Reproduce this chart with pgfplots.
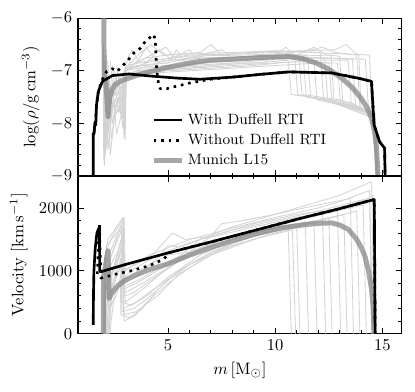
\documentclass[border=0pt]{standalone}
\usepackage{pgfplots}
\pgfplotsset{compat=1.18}
\usetikzlibrary{calc}
\definecolor{enscol}{RGB}{211,211,211}
\definecolor{munichcol}{RGB}{128,128,128}

\begin{document}
\begin{tikzpicture}
\pgfplotsset{
  panel/.style={width=195pt,height=95pt,scale only axis,
    xmin=0.8,xmax=15.9,xtick={5,10,15},minor x tick num=4,
    tick align=inside,major tick length=3.5pt,minor tick length=2pt,
    axis line style={line width=0.8pt},every tick/.style={black,line width=0.6pt},
    every axis plot/.append style={line join=round}},
  ens/.style={enscol,line width=0.5pt,forget plot},
  withrti/.style={black,line width=1.6pt},
  withoutrti/.style={black,line width=1.6pt,dash pattern=on 1.6pt off 2.9pt},
  munich/.style={munichcol,draw opacity=0.7,line width=3pt},
}
% ---- density panel
\begin{axis}[panel,name=top,ymin=-9,ymax=-6,ytick={-9,-8,-7,-6},minor y tick num=4,
  xticklabels={},ylabel={$\log(\rho/\mathrm{g\,cm^{-3}})$},
  legend style={at={(0.21,0.44)},anchor=north west,draw=none,fill=none,font=\small,row sep=0.5pt},
  legend cell align=left]
\addlegendimage{withrti}\addlegendentry{With Duffell RTI}
\addlegendimage{withoutrti}\addlegendentry{Without Duffell RTI}
\addlegendimage{munich}\addlegendentry{Munich L15}
% ensemble
\addplot[ens] coordinates {(1.96,-6.6) (2.0,-8.7) (2.1,-7.6) (2.3,-7.3) (2.6,-7.15) (3.5,-7.0) (5,-6.95) (7,-6.9) (9,-6.85) (10.6,-6.8) (10.75,-7.45) (12.5,-7.55) (14.55,-7.8) (14.7,-9.1)};
\addplot[ens] coordinates {(1.97,-6.8) (2.03,-8.8) (2.15,-7.9) (2.4,-7.5) (2.85,-7.3) (2.95,-8.3) (3.0,-7.1) (4,-6.9) (5,-6.8) (6,-6.6) (6.3,-6.75) (8,-6.75) (10,-6.7) (10.9,-6.7) (11.05,-7.45) (13,-7.6) (14.6,-7.85) (14.75,-9.1)};
\addplot[ens] coordinates {(1.98,-6.5) (2.05,-8.4) (2.2,-7.6) (2.5,-7.2) (2.9,-7.4) (2.98,-8.2) (3.05,-7.0) (3.6,-6.8) (4.0,-6.55) (4.4,-6.8) (6,-6.7) (8,-6.68) (10,-6.65) (11.3,-6.7) (11.45,-7.5) (13.5,-7.65) (14.65,-7.85) (14.8,-9.1)};
\addplot[ens] coordinates {(2.0,-6.9) (2.07,-8.6) (2.25,-8.0) (2.5,-7.6) (2.88,-7.5) (2.95,-7.0) (3.5,-6.9) (5,-6.85) (5.4,-6.6) (5.8,-6.85) (8,-6.8) (10,-6.75) (11.8,-6.8) (11.95,-7.55) (14.6,-7.8) (14.72,-9.1)};
\addplot[ens] coordinates {(2.02,-6.7) (2.1,-8.5) (2.3,-7.8) (2.7,-7.4) (2.9,-7.6) (3.0,-8.3) (3.05,-6.95) (4,-6.75) (5,-6.7) (6.5,-6.65) (7,-6.5) (7.5,-6.7) (10,-6.62) (12.1,-6.65) (12.25,-7.55) (14.65,-7.8) (14.82,-9.1)};
\addplot[ens] coordinates {(2.05,-7.0) (2.12,-8.3) (2.3,-7.4) (2.6,-7.1) (3.5,-7.05) (5,-7.0) (7,-6.95) (9,-6.9) (10.2,-6.85) (11,-6.82) (12.5,-6.85) (12.65,-7.6) (14.6,-7.9) (14.75,-9.1)};
\addplot[ens] coordinates {(2.08,-6.8) (2.15,-8.1) (2.35,-7.5) (2.85,-7.2) (2.93,-8.0) (3.0,-6.9) (3.3,-6.6) (3.7,-6.85) (5,-6.8) (7,-6.75) (9,-6.72) (11,-6.7) (11.8,-6.55) (12.4,-6.7) (13,-6.72) (13.15,-7.6) (14.65,-7.85) (14.78,-9.1)};
\addplot[ens] coordinates {(2.1,-6.9) (2.2,-8.5) (2.4,-7.7) (2.8,-7.3) (3.1,-7.1) (4,-7.0) (6,-6.95) (8,-6.9) (10,-6.85) (12,-6.8) (13.4,-6.8) (13.55,-7.65) (14.6,-7.8) (14.7,-9.1)};
\addplot[ens] coordinates {(2.12,-6.7) (2.25,-8.0) (2.5,-7.4) (2.9,-7.8) (2.97,-7.0) (4,-6.85) (4.6,-6.6) (5.2,-6.8) (7,-6.7) (9,-6.65) (11,-6.62) (12.8,-6.6) (13.3,-6.5) (13.7,-6.65) (13.9,-6.7) (14.0,-7.7) (14.62,-7.85) (14.76,-9.1)};
\addplot[ens] coordinates {(2.15,-7.0) (2.3,-8.6) (2.5,-7.9) (2.9,-7.5) (3.0,-7.05) (4,-7.0) (6,-6.95) (8,-6.85) (10,-6.78) (12,-6.75) (14.2,-6.78) (14.35,-7.75) (14.6,-7.9) (14.7,-9.1)};
\addplot[ens] coordinates {(2.18,-6.8) (2.35,-8.3) (2.6,-7.6) (2.88,-7.9) (2.95,-7.0) (3.8,-6.9) (5,-6.85) (6,-6.75) (7.5,-6.6) (8.0,-6.75) (10,-6.72) (11.5,-6.7) (11.65,-7.5) (13.5,-7.6) (14.62,-7.82) (14.8,-9.1)};
\addplot[ens] coordinates {(2.2,-6.9) (2.4,-8.0) (2.7,-7.5) (2.9,-8.1) (2.98,-7.1) (4,-7.0) (6,-6.9) (8,-6.85) (9.5,-6.85) (10.5,-6.55) (11,-6.75) (12.3,-6.75) (12.45,-7.55) (14.6,-7.8) (14.72,-9.1)};
\addplot[ens] coordinates {(2.25,-7.1) (2.45,-7.9) (2.8,-7.6) (3.0,-8.1) (3.05,-7.1) (4,-6.95) (5.5,-6.9) (7,-6.82) (9,-6.78) (11,-6.75) (13.6,-6.78) (13.75,-7.7) (14.6,-7.85) (14.74,-9.1)};
\addplot[ens] coordinates {(2.3,-6.8) (2.5,-7.7) (2.85,-7.4) (2.97,-7.0) (3.5,-6.85) (4.9,-6.55) (5.4,-6.8) (7,-6.78) (9,-6.72) (10.8,-6.7) (11.1,-6.72) (11.25,-7.45) (13,-7.55) (14.6,-7.8) (14.75,-9.1)};
\addplot[ens] coordinates {(2.35,-7.0) (2.6,-8.2) (2.9,-7.7) (3.0,-7.15) (4,-7.05) (6,-7.0) (8,-6.95) (10,-6.9) (12,-6.85) (12.9,-6.85) (13.05,-7.65) (14.65,-7.9) (14.8,-9.1)};
\addplot[ens] coordinates {(2.4,-6.9) (2.7,-7.8) (2.95,-7.3) (3.05,-6.9) (4.2,-6.8) (6,-6.72) (8.5,-6.7) (10,-6.68) (11.5,-6.62) (12.2,-6.55) (12.8,-6.65) (13.8,-6.7) (13.95,-7.7) (14.6,-7.85) (14.76,-9.1)};
\addplot[ens] coordinates {(2.5,-7.0) (2.8,-7.6) (3.0,-7.0) (4,-6.92) (6,-6.88) (7,-6.82) (9,-6.78) (11,-6.72) (12.6,-6.7) (12.75,-7.6) (14.6,-7.85) (14.72,-9.1)};
\addplot[ens] coordinates {(2.6,-6.9) (2.9,-7.7) (3.0,-6.95) (3.6,-6.7) (4.2,-6.5) (4.8,-6.7) (6,-6.68) (8,-6.65) (10,-6.62) (14.4,-6.7) (14.5,-7.8) (14.65,-7.95) (14.8,-9.1)};
% Munich L15
\addplot[munich,forget plot] coordinates {(2.0,-5.8) (2.02,-7.1) (2.1,-7.2) (2.2,-7.87) (2.28,-7.5) (2.4,-7.35) (2.55,-7.26) (2.8,-7.19) (3.17,-7.14) (3.5,-7.09) (3.94,-7.04) (4.7,-6.96) (5.5,-6.89) (6.2,-6.84) (7,-6.8) (8,-6.78) (8.8,-6.76) (9.7,-6.74) (10.65,-6.73) (11.3,-6.77) (11.9,-6.85) (12.5,-6.97) (13.1,-7.14) (13.6,-7.32) (14.0,-7.52) (14.3,-7.71) (14.5,-7.92) (14.63,-8.15) (14.72,-8.45) (14.77,-8.8) (14.8,-9.1)};
% without Duffell RTI
\addplot[withoutrti,forget plot] coordinates {(1.55,-8.15) (1.6,-8.0) (1.65,-7.75) (1.72,-7.45) (1.85,-7.25) (2.0,-7.1) (2.14,-7.01) (2.40,-6.96) (2.63,-7.01) (2.86,-6.91) (3.09,-6.82) (3.40,-6.66) (3.71,-6.57) (3.94,-6.44) (4.32,-6.31) (4.40,-6.4) (4.47,-6.98) (4.55,-7.23) (4.63,-7.34) (4.94,-7.34) (5.32,-7.30) (6.03,-7.23) (6.96,-7.16) (8.0,-7.12) (9.5,-7.06) (10.65,-7.02) (12.64,-7.04) (13.87,-7.14) (14.49,-7.2) (14.61,-8.03) (14.87,-8.35) (15.1,-8.47) (15.13,-9.1)};
% with Duffell RTI
\addplot[withrti,forget plot] coordinates {(1.51,-9.1) (1.51,-8.19) (1.55,-8.2) (1.58,-8.0) (1.63,-8.03) (1.66,-7.65) (1.75,-7.39) (1.94,-7.2) (2.4,-7.09) (3.17,-7.06) (4.2,-7.1) (5.48,-7.14) (6.5,-7.16) (8.0,-7.12) (9.5,-7.06) (10.65,-7.02) (12.64,-7.04) (13.87,-7.14) (14.49,-7.2) (14.61,-8.03) (14.87,-8.35) (15.1,-8.47) (15.13,-9.1)};
\end{axis}
% ---- velocity panel
\begin{axis}[panel,name=bot,at={(top.south west)},anchor=north west,
  ymin=0,ymax=2510,ytick={0,1000,2000},minor y tick num=4,
  scaled y ticks=false,/pgf/number format/1000 sep={},
  xlabel={$m\,[\mathrm{M_\odot}]$},ylabel={Velocity $[\mathrm{km\,s^{-1}}]$}]
\addplot[ens] coordinates {(2.0,0) (2.03,1200) (2.2,1500) (2.9,1850) (2.95,900) (3.5,1050) (4.5,1250) (6,1450) (8,1650) (10,1800) (12,1950) (14.3,2150) (14.55,2200) (14.65,0)};
\addplot[ens] coordinates {(2.0,0) (2.05,900) (2.5,1400) (2.85,1750) (2.9,700) (3.5,800) (4.5,1000) (6,1300) (8,1550) (10,1700) (10.6,1720) (10.75,0)};
\addplot[ens] coordinates {(2.02,0) (2.1,700) (2.6,1200) (2.8,1500) (2.85,500) (3.3,450) (4,600) (5,900) (6.5,1250) (8,1500) (10,1680) (11.0,1750) (11.15,0)};
\addplot[ens] coordinates {(2.03,0) (2.08,1100) (2.7,1650) (2.92,1800) (2.96,600) (3.4,650) (4.2,850) (5.5,1150) (7,1400) (9,1600) (11.4,1780) (11.55,0)};
\addplot[ens] coordinates {(2.05,0) (2.15,500) (2.5,900) (2.75,1300) (2.8,300) (3.2,250) (3.8,400) (4.5,700) (5.5,1000) (7,1300) (9,1550) (11.8,1800) (11.95,0)};
\addplot[ens] coordinates {(2.06,0) (2.1,1300) (2.4,1550) (2.95,1850) (3.0,1000) (3.6,1150) (4.4,1300) (5.2,1600) (5.8,1500) (7,1550) (9,1750) (11,1900) (12.2,1950) (12.35,0)};
\addplot[ens] coordinates {(2.08,0) (2.2,800) (2.6,1100) (2.88,1400) (2.93,400) (3.5,500) (4.5,750) (6,1100) (8,1400) (10,1600) (12.5,1850) (12.65,0)};
\addplot[ens] coordinates {(2.1,0) (2.2,1000) (2.7,1350) (2.9,1600) (2.95,750) (3.6,850) (4.6,1050) (5.6,1250) (6.5,1500) (7.2,1550) (9,1700) (11,1850) (12.9,1980) (13.05,0)};
\addplot[ens] coordinates {(2.12,0) (2.25,600) (2.6,950) (2.8,1200) (2.85,350) (3.4,400) (4,550) (5,850) (6,1100) (8,1450) (10,1650) (13.2,1900) (13.35,0)};
\addplot[ens] coordinates {(2.15,0) (2.3,1200) (2.9,1700) (2.95,850) (3.6,1000) (5,1250) (6,1300) (7,1550) (7.5,1750) (8.5,1800) (10,1900) (12,2050) (13.5,2150) (13.65,0)};
\addplot[ens] coordinates {(2.18,0) (2.3,400) (2.7,800) (2.88,1000) (2.92,300) (3.5,350) (4.5,600) (5.5,950) (7,1250) (9,1500) (11,1700) (13.8,1950) (13.95,0)};
\addplot[ens] coordinates {(2.2,0) (2.35,900) (2.75,1300) (2.93,1550) (2.97,650) (3.8,800) (5,1050) (6.5,1350) (8,1550) (10,1720) (12,1880) (14.1,2050) (14.25,0)};
\addplot[ens] coordinates {(2.22,0) (2.4,700) (2.8,1100) (2.95,1300) (3.0,500) (3.8,700) (4.8,1000) (6,1300) (7.5,1500) (9,1600) (10.5,1750) (12,1900) (14.4,2150) (14.5,0)};
\addplot[ens] coordinates {(2.25,0) (2.4,1000) (2.85,1500) (2.9,800) (3.5,900) (4.5,1200) (5,1400) (5.6,1380) (6.5,1500) (8,1700) (9.5,1850) (11,2000) (13,2200) (14.5,2420) (14.6,0)};
\addplot[ens] coordinates {(2.0,0) (2.12,1400) (2.6,1600) (2.82,1650) (2.87,1000) (3.5,1100) (4.5,1300) (6,1500) (8,1680) (10,1850) (12,2000) (13,2100) (14.4,2280) (14.55,0)};
\addplot[ens] coordinates {(2.28,0) (2.45,500) (2.9,900) (2.95,200) (3.5,300) (4,500) (5,800) (6,1050) (7.5,1350) (9.5,1550) (10.8,1650) (10.95,0)};
% Munich L15
\addplot[munich,forget plot] coordinates {(1.98,0) (1.99,900) (2.2,1320) (2.24,560) (2.4,660) (2.65,763) (3.0,850) (3.41,921) (4.18,1027) (4.95,1106) (6,1250) (7,1370) (8,1480) (9,1580) (10.33,1685) (11.5,1740) (12.2,1760) (12.64,1762) (13.0,1730) (13.41,1659) (13.8,1500) (14.0,1380) (14.18,1237) (14.35,1000) (14.49,711) (14.57,400) (14.61,30) (14.62,0)};
% without Duffell RTI
\addplot[withoutrti,forget plot] coordinates {(1.7,950) (1.74,1300) (1.78,1650) (1.8,1754) (1.83,1300) (1.87,885) (2.57,948) (3.26,1000) (4.1,1079) (4.8,1185) (5.05,1290) (7,1460) (9,1640) (11,1820) (13,1990) (14.62,2135) (14.66,0)};
% with Duffell RTI
\addplot[withrti,forget plot] coordinates {(1.51,140) (1.52,600) (1.54,985) (1.6,1350) (1.68,1600) (1.76,1670) (1.8,1680) (1.81,1000) (1.86,985) (3,1100) (5,1285) (7,1460) (9,1640) (11,1820) (13,1990) (14.62,2135) (14.66,0)};
\end{axis}
\path ($(top.north west)+(-47pt,11pt)$);
\path ($(bot.south east)+(8pt,-35pt)$);
\end{tikzpicture}
\end{document}
